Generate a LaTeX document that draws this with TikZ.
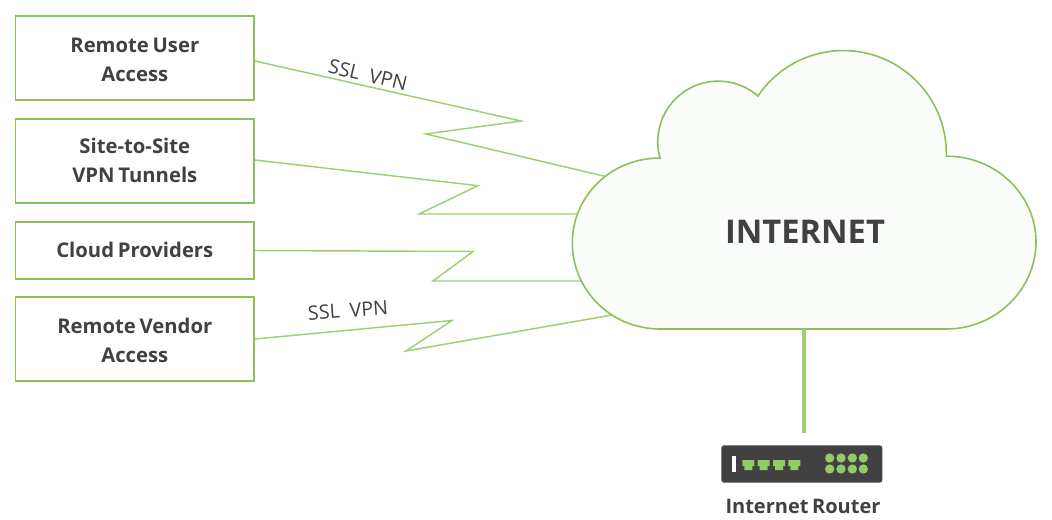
\documentclass[tikz,border=0pt]{standalone}
\usepackage{fontspec}
\setmainfont[WordSpace=0.7]{Open Sans}
\definecolor{boxgreen}{HTML}{8DC05A}
\definecolor{linkgreen}{HTML}{9DD072}
\definecolor{cloudfill}{HTML}{FAFCFA}
\definecolor{ink}{HTML}{414042}
\definecolor{routerbody}{HTML}{414042}
\definecolor{portgreen}{HTML}{93CB67}
\tikzset{
  boxnode/.style={draw=boxgreen,line width=1.1pt,fill=white,inner sep=0pt,minimum width=179pt,
    align=center,font=\fontsize{15.2}{21.8}\selectfont\bfseries,text=ink},
  linkline/.style={draw=linkgreen,line width=1.1pt,line join=miter},
  vpnlabel/.style={font=\fontsize{14.8}{16}\selectfont,text=ink,inner sep=0pt},
  ledshape/.style={fill=portgreen,draw=none,circle,minimum size=7pt,inner sep=0pt},
}
\begin{document}
\begin{tikzpicture}[x=0.75pt,y=-0.75pt]
\useasboundingbox (0,0) rectangle (1052,520);
% boxes
\node[boxnode,minimum height=63pt] (user) at (134.8,58) {\rule{0pt}{13pt}Remote User\\Access};
\node[boxnode,minimum height=63pt] (site) at (134.8,161) {Site-to-Site\\VPN Tunnels\rule[-1.5pt]{0pt}{1pt}};
\node[boxnode,minimum height=42.75pt] (provider) at (134.8,250.5) {\raisebox{0.75pt}[\height][\depth]{Cloud Providers}};
\node[boxnode,minimum height=63pt] (vendor) at (134.8,339) {\rule{0pt}{13pt}Remote Vendor\\Access};
% cloud anchor points
\coordinate (cloudA) at (612,178);
\coordinate (cloudB) at (590,214);
\coordinate (cloudC) at (590,281);
\coordinate (cloudD) at (618,314);
\coordinate (cloudS) at (804,329);
% connectors
\draw[linkline] (user.east |- 0,61) -- (521,121) -- (426,134) -- (cloudA);
\draw[linkline] (site.east |- 0,160) -- (478,185.7) -- (419,214) -- (cloudB);
\draw[linkline] (provider.east) -- (473,251.5) -- (433,281) -- (cloudC);
\draw[linkline] (vendor.east) -- (452,320.5) -- (406,351) -- (cloudD);
% cloud
\draw[draw=boxgreen,line width=1.2pt,fill=cloudfill,line join=miter]
  (660,158)
  arc[start angle=164.3,end angle=311,radius=60.5]
  arc[start angle=214,end angle=361.5,radius=103]
  .. controls (995,155.7) and (1036,194) .. (1036,242)
  .. controls (1036,290) and (995,329) .. (946.7,329)
  -- (660,329)
  .. controls (611,329) and (572.3,290) .. (572.3,243)
  .. controls (572.3,196) and (611,158) .. (660,158) -- cycle;
\node[font=\fontsize{24.5}{30}\selectfont\bfseries,text=ink,inner sep=0pt] (internet) at (805,232) {INTERNET};
% labels
\node[vpnlabel,rotate=-13.5] (ssl1) at (368,75) {SSL\hspace{0.5em}VPN};
\node[vpnlabel,rotate=4] (ssl2) at (348,310.5) {SSL\hspace{0.5em}VPN};
% router
\node[fill=routerbody,rounded corners=2pt,inner sep=0pt,minimum width=120.75pt,minimum height=28pt] (router) at (801.8,464) {};
\draw[draw=linkgreen,line width=2.5pt,shorten >=9pt] (cloudS) -- (cloudS |- router.north);
\fill[white] (732.3,456.3) rectangle (735.7,472);
\foreach \px in {742.3,757.7,773,788.3}{
  \fill[portgreen] (\px,460) -- ++(12,0) -- ++(0,6) -- ++(-2,0) -- ++(0,4) -- ++(-8,0) -- ++(0,-4) -- ++(-2,0) -- cycle;
}
\foreach \lx in {829.7,841,852.3,863.3}{
  \foreach \ly in {458,469}{
    \node[ledshape] at (\lx,\ly) {};
  }
}
\node[font=\fontsize{15}{18}\selectfont\bfseries,text=ink,inner sep=0pt] (routerlabel) at (803,506.5) {Internet Router};
\end{tikzpicture}
\end{document}
